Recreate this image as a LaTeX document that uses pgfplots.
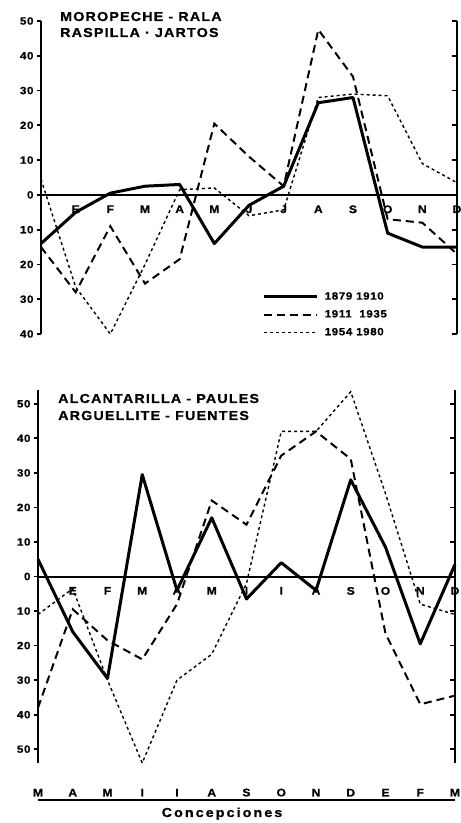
\documentclass[border=0pt]{standalone}
\usepackage{fontspec}
\setmainfont{Liberation Sans}[FakeStretch=1.1, LetterSpace=6, BoldFeatures={FakeBold=0.8}]
\newfontfamily\ttlfont{Liberation Sans}[FakeStretch=1.1, LetterSpace=9, BoldFeatures={FakeBold=0.8}]
\newfontfamily\cfont{Liberation Sans}[FakeStretch=1.1, LetterSpace=16, BoldFeatures={FakeBold=0.8}]
\usepackage{pgfplots}
\pgfplotsset{compat=1.18}

\pgfplotsset{
  panel/.style={
    scale only axis, clip=false,
    xmin=0, xmax=12,
    axis x line*=middle, axis y line*=left,
    hide obscured y ticks=false,
    x axis line style={line width=2pt},
    y axis line style={line width=2.6pt},
    xtick={1,...,12},
    x tick style={draw=none},
    x tick label style={font=\bfseries\fontsize{11}{11}\selectfont, yshift=-3pt},
    ytick distance=10,
    y tick style={line width=1.8pt, black},
    tick align=outside, major tick length=4pt,
    yticklabel={\pgfmathparse{int(abs(\tick))}\pgfmathresult},
    y tick label style={font=\bfseries\fontsize{10.5}{10.5}\selectfont},
  },
  rightax/.style={
    scale only axis, xmin=0, xmax=12, hide x axis,
    axis y line*=right, ytick distance=10, yticklabels={},
    tick align=inside, major tick length=5pt,
    y axis line style={line width=2.6pt},
    y tick style={line width=1.8pt, black},
  },
  s1/.style={black, line width=3pt, line join=round},
  s2/.style={black, line width=2pt, dash pattern=on 8pt off 5pt},
  s3/.style={black, line width=1.4pt, dash pattern=on 3pt off 3pt},
}

\begin{document}
\begin{tikzpicture}[x=1pt,y=1pt]
\useasboundingbox (0,0) rectangle (461,823);

% ---- upper panel
\begin{axis}[panel, at={(41pt,489pt)}, anchor=south west,
  width=416pt, height=313pt, ymin=-40, ymax=50,
  xticklabels={E,F,M,A,M,J,J,A,S,O,N,D},
  legend cell align=left,
  legend image code/.code={\draw[#1] (0pt,0pt) -- (53pt,0pt); \path (57pt,0pt);},
  legend style={at={(axis cs:6.39,-34.4)}, anchor=west, draw=none, fill=none,
    inner sep=0pt, row sep=5pt,
    font=\bfseries\fontsize{10.5}{10.5}\selectfont}]
\addplot[s1] coordinates {(0,-14)(1,-5)(2,0.5)(3,2.5)(4,3)(5,-14)(6,-3)(7,2.5)(8,26.5)(9,28)(10,-11)(11,-15)(12,-15)};
\addlegendentry{1879 1910}
\addplot[s2] coordinates {(0,-15)(1,-28)(2,-9)(3,-25.5)(4,-18.5)(5,20.5)(6,11)(7,2.5)(8,47.5)(9,34)(10,-7)(11,-8)(12,-17)};
\addlegendentry{1911 \ 1935}
\addplot[s3] coordinates {(0,4.5)(1,-26.5)(2,-40)(3,-20)(4,1.5)(5,2)(6,-6)(7,-4.3)(8,28)(9,29)(10,28.5)(11,9)(12,3.5)};
\addlegendentry{1954 1980}
\end{axis}
\begin{axis}[rightax, at={(41pt,489pt)}, anchor=south west,
  width=416pt, height=313pt, ymin=-40, ymax=50]
\end{axis}

% ---- lower panel
\begin{axis}[panel, at={(38pt,60pt)}, anchor=south west,
  width=417pt, height=373pt, ymin=-54, ymax=54,
  xticklabels={E,F,M,A,M,I,I,A,S,O,N,D}]
\addplot[s1] coordinates {(0,5)(1,-16)(2,-29.5)(3,29.5)(4,-4)(5,17)(6,-6.5)(7,4)(8,-4)(9,28)(10,8.5)(11,-19.5)(12,3.5)};
\addplot[s2] coordinates {(0,-38)(1,-9.5)(2,-18.5)(3,-24)(4,-8)(5,22)(6,15)(7,35)(8,42)(9,34)(10,-16.5)(11,-37)(12,-34.5)};
\addplot[s3] coordinates {(0,-11)(1,-3.5)(2,-30)(3,-54)(4,-30)(5,-22.5)(6,-2)(7,42)(8,42)(9,53.5)(10,24)(11,-8)(12,-11)};
\end{axis}
\begin{axis}[rightax, at={(38pt,60pt)}, anchor=south west,
  width=417pt, height=373pt, ymin=-54, ymax=54]
\end{axis}

% ---- conception months
\begin{axis}[scale only axis, at={(38pt,22pt)}, anchor=south west,
  width=417pt, height=1pt, xmin=0, xmax=12, ymin=0, ymax=1,
  hide y axis, axis x line*=top,
  xtick={0,...,12}, xticklabels={M,A,M,I,I,A,S,O,N,D,E,F,M},
  x tick style={draw=none},
  x axis line style={line width=2pt},
  x tick label style={font=\bfseries\fontsize{11}{11}\selectfont}]
\end{axis}

\node[anchor=base, inner sep=0pt, font=\cfont\bfseries\fontsize{13}{13}\selectfont] at (222,6) {Concepciones};

\node[anchor=base west, inner sep=0pt, font=\ttlfont\bfseries\fontsize{13}{13}\selectfont] at (60,802) {MOROPECHE - RALA};
\node[anchor=base west, inner sep=0pt, font=\ttlfont\bfseries\fontsize{13}{13}\selectfont] at (60,786) {RASPILLA · JARTOS};
\node[anchor=base west, inner sep=0pt, font=\ttlfont\bfseries\fontsize{13}{13}\selectfont] at (58,420) {ALCANTARILLA - PAULES};
\node[anchor=base west, inner sep=0pt, font=\ttlfont\bfseries\fontsize{13}{13}\selectfont] at (58,403) {ARGUELLITE - FUENTES};
\end{tikzpicture}
\end{document}
